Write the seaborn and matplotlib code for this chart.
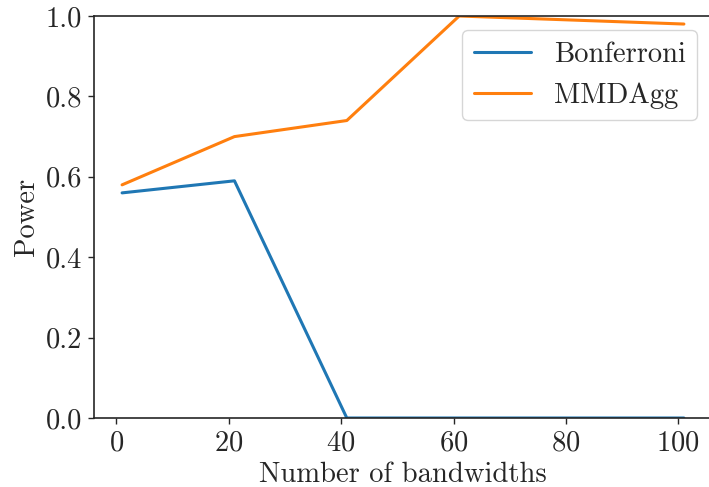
import matplotlib
matplotlib.use("Agg")
import matplotlib.pyplot as plt
import seaborn as sns
import pandas as pd

bandwidths = [1, 21, 41, 61, 81, 101]
bonferroni = [0.56, 0.59, 0.0, 0.0, 0.0, 0.0]
mmdagg = [0.58, 0.70, 0.74, 1.0, 0.99, 0.98]
methods = ["Bonferroni", "MMDAgg"]

sns.set_theme(style="ticks")
plt.rcParams["font.family"] = ["cmr10", "DejaVu Serif"]
plt.rcParams["mathtext.fontset"] = "cm"
plt.rcParams["axes.formatter.use_mathtext"] = True

df = pd.DataFrame({
    "x": bandwidths * 2,
    "power": bonferroni + mmdagg,
    "method": [methods[0]] * len(bandwidths) + [methods[1]] * len(bandwidths),
})

fs = 20.6
fig = plt.figure(figsize=(7.09, 4.87), dpi=100)
ax = fig.add_axes([94 / 709, 69 / 487, 618 / 709, 402 / 487])
sns.lineplot(data=df, x="x", y="power", hue="method",
             palette=["#1f77b4", "#ff7f0e"], linewidth=2.2, ax=ax)

ax.set_ylim(0, 1)
ax.set_xlim(-4, 106)
ax.set_xticks([0, 20, 40, 60, 80, 100])
ax.set_yticks([0.0, 0.2, 0.4, 0.6, 0.8, 1.0])
ax.set_yticklabels(["0.0", "0.2", "0.4", "0.6", "0.8", "1.0"])
ax.tick_params(labelsize=fs, length=4.5, width=1.0, color="0.15", pad=4)
for s in ax.spines.values():
    s.set_color("0.15")
    s.set_linewidth(1.2)
ax.set_xlabel("Number of bandwidths", fontsize=fs)
ax.set_ylabel("Power", fontsize=fs)

leg = ax.legend(title=None, fontsize=fs, loc="upper right",
                bbox_to_anchor=(697 / 709, 1 - 30 / 487),
                bbox_transform=fig.transFigure, borderaxespad=0,
                frameon=True, handlelength=2.0)
leg.get_frame().set_edgecolor("0.8")

fig.savefig("out.png", dpi=100)
